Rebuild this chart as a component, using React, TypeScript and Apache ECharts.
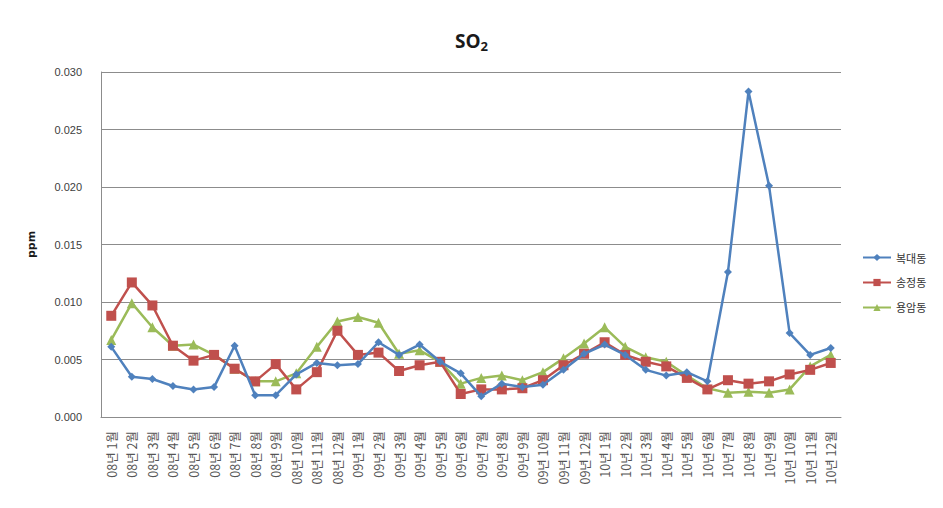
import React, { useEffect, useRef } from "react";
import * as echarts from "echarts";

const categories: string[] = [];
const years = ["08", "09", "10"];
for (const y of years) {
  for (let m = 1; m <= 12; m++) categories.push(`${y}년 ${m}월`);
}

const seriesNames = ["복대동", "송정동", "용암동"];

const bokdae = [
  0.0061, 0.0035, 0.0033, 0.0027, 0.0024, 0.0026, 0.0062, 0.0019, 0.0019, 0.0037, 0.0047, 0.0045,
  0.0046, 0.0065, 0.0054, 0.0063, 0.0048, 0.0038, 0.0018, 0.0029, 0.0026, 0.0028, 0.0041, 0.0055,
  0.0063, 0.0054, 0.0041, 0.0036, 0.0039, 0.0031, 0.0126, 0.0283, 0.0201, 0.0073, 0.0054, 0.0060,
];
const songjeong = [
  0.0088, 0.0117, 0.0097, 0.0062, 0.0049, 0.0054, 0.0042, 0.0031, 0.0046, 0.0024, 0.0039, 0.0075,
  0.0054, 0.0056, 0.0040, 0.0045, 0.0048, 0.0020, 0.0024, 0.0024, 0.0025, 0.0032, 0.0045, 0.0055,
  0.0065, 0.0054, 0.0048, 0.0044, 0.0034, 0.0024, 0.0032, 0.0029, 0.0031, 0.0037, 0.0041, 0.0047,
];
const yongam = [
  0.0067, 0.0099, 0.0078, 0.0062, 0.0063, 0.0054, 0.0042, 0.0031, 0.0031, 0.0038, 0.0061, 0.0083,
  0.0087, 0.0082, 0.0055, 0.0058, 0.0048, 0.0029, 0.0034, 0.0036, 0.0032, 0.0039, 0.0051, 0.0064,
  0.0078, 0.0061, 0.0052, 0.0048, 0.0036, 0.0025, 0.0021, 0.0022, 0.0021, 0.0024, 0.0044, 0.0054,
];

const colors = ["#4F81BD", "#C0504D", "#9BBB59"];
const symbols = ["diamond", "rect", "triangle"];
const symbolSizes = [8, 10, 10];

export default function App() {
  const ref = useRef<HTMLDivElement>(null);
  useEffect(() => {
    if (!ref.current) return;
    const chart = echarts.init(ref.current, undefined, { renderer: "svg" });
    const data = [bokdae, songjeong, yongam];
    const font = "'Noto Sans CJK KR', 'Noto Sans', sans-serif";
    chart.setOption({
      animation: false,
      textStyle: { fontFamily: font },
      title: {
        text: "{a|SO}{b|2}",
        left: "center",
        top: 24,
        textStyle: {
          rich: {
            a: { fontSize: 19, fontWeight: "bold", color: "#1a1a1a", fontFamily: "'Open Sans', sans-serif" },
            b: { fontSize: 13, fontWeight: "bold", color: "#1a1a1a", fontFamily: "'Open Sans', sans-serif", padding: [10, 0, 0, 0] },
          },
        },
      },
      legend: {
        orient: "vertical",
        left: 857,
        top: 247,
        itemGap: 14,
        itemWidth: 28,
        itemHeight: 9,
        data: seriesNames,
        textStyle: { fontSize: 11, color: "#333", fontFamily: font },
      },
      grid: { left: 101, right: 102, top: 72, bottom: 91, containLabel: false },
      xAxis: {
        type: "category",
        data: categories,
        boundaryGap: true,
        axisLine: { lineStyle: { color: "#8c8c8c", width: 1 } },
        axisTick: { show: false },
        axisLabel: {
          interval: 0,
          rotate: 90,
          fontSize: 12.5,
          color: "#555",
          margin: 14,
          fontFamily: font,
        },
      },
      yAxis: {
        type: "value",
        min: 0,
        max: 0.03,
        interval: 0.005,
        name: "ppm",
        nameLocation: "middle",
        nameGap: 64,
        nameRotate: 90,
        nameTextStyle: { fontSize: 11, fontWeight: "bold", color: "#1a1a1a", fontFamily: "'DejaVu Sans', sans-serif" },
        axisLine: { show: true, lineStyle: { color: "#8c8c8c", width: 1 } },
        axisTick: { show: false },
        splitLine: { lineStyle: { color: "#8c8c8c", width: 1 } },
        axisLabel: {
          fontSize: 11,
          color: "#404040",
          margin: 19,
          formatter: (v: number) => v.toFixed(3),
          fontFamily: "'Liberation Sans', sans-serif",
        },
      },
      series: seriesNames.map((name, i) => ({
        name,
        type: "line",
        data: data[i],
        symbol: symbols[i],
        symbolSize: symbolSizes[i],
        lineStyle: { color: colors[i], width: 2.5 },
        itemStyle: { color: colors[i] },
        z: 3 - i,
      })),
    });
    return () => chart.dispose();
  }, []);
  return (
    <div
      ref={ref}
      style={{ position: "fixed", left: 0, top: 0, width: 943, height: 508, background: "#fff" }}
    />
  );
}
